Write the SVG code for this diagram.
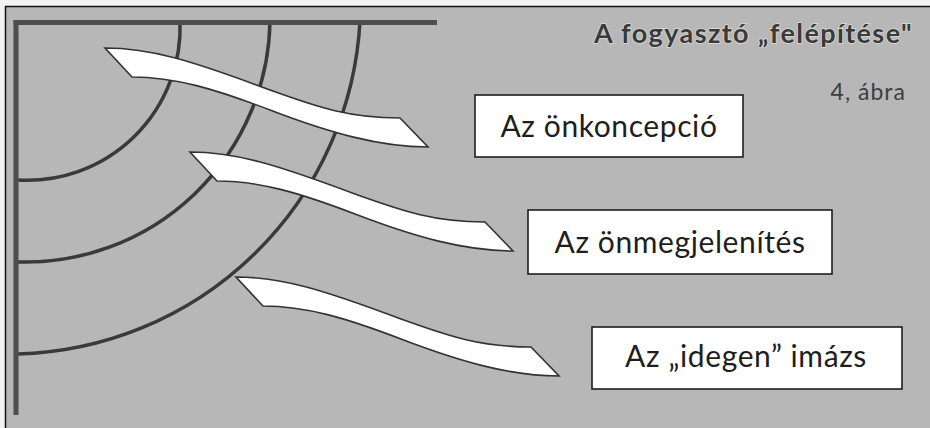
<svg xmlns="http://www.w3.org/2000/svg" width="930" height="428" viewBox="0 0 930 428">
  <defs>
    <style>
      .bg { fill: #b7b7b7; }
      .border { stroke: #111; stroke-width: 1.5; fill: none; }
      .frame { stroke: #4e4e4e; stroke-width: 5; fill: none; stroke-linecap: butt; }
      .arc { stroke: #3a3a3a; stroke-width: 3.5; fill: none; }
      .ribbon { fill: #ffffff; stroke: #333; stroke-width: 1.6; stroke-linejoin: miter; }
      .box { fill: #ffffff; stroke: #1e1e1e; stroke-width: 1.6; }
      .lbl { font-family: Lato, "Open Sans", "DejaVu Sans", sans-serif; font-size: 30px; letter-spacing: 0.6px; fill: #1e1e1e; text-anchor: middle; }
      .title { font-family: Lato, "Open Sans", "DejaVu Sans", sans-serif; font-weight: bold; font-size: 27px; letter-spacing: 1.4px; fill: #3a3a3a; text-anchor: end; stroke: #dcdcdc; stroke-width: 1.5; paint-order: stroke; }
      .sub { font-family: Lato, "Open Sans", "DejaVu Sans", sans-serif; font-size: 23px; letter-spacing: 1px; fill: #3e3e3e; text-anchor: end; }
    </style>
    <path id="rib" d="M105,48 C150,48 190,60 270,90 C320,108 350,118 400,118 L428,147 C380,147 330,133 270,110 C215,89 175,77 132,77 Z"/>
  </defs>

  <rect x="0" y="0" width="930" height="428" fill="#f2f2f2"/>
  <rect class="bg" x="5" y="7" width="925" height="421"/>

  <g id="layers">
    <path class="arc" d="M18,180 A153,153 0 0 0 180,21"/>
    <path class="arc" d="M18,262 A245,245 0 0 0 270,21"/>
    <path class="arc" d="M18,354 A352,352 0 0 0 360,21"/>
  </g>

  <g id="frame">
    <line class="border" x1="5" y1="6.5" x2="930" y2="6.5"/>
    <line class="border" x1="5.5" y1="6" x2="5.5" y2="428"/>
    <line class="frame" x1="13.5" y1="22.5" x2="437" y2="22.5"/>
    <line class="frame" x1="16" y1="20" x2="16" y2="415"/>
  </g>

  <g id="connectors">
    <use href="#rib" class="ribbon"/>
    <use href="#rib" class="ribbon" transform="translate(85,104)"/>
    <use href="#rib" class="ribbon" transform="translate(131,229)"/>
  </g>

  <g id="title">
    <text class="title" x="913" y="43">A fogyasztó „felépítése"</text>
    <text class="sub" x="906" y="100">4, ábra</text>
  </g>

  <g id="node-onkoncepcio">
    <rect class="box" x="475" y="95" width="268" height="62"/>
    <text class="lbl" x="609" y="137">Az önkoncepció</text>
  </g>

  <g id="node-onmegjelenites">
    <rect class="box" x="528" y="210" width="304" height="64"/>
    <text class="lbl" x="680" y="253">Az önmegjelenítés</text>
  </g>

  <g id="node-idegen-imazs">
    <rect class="box" x="592" y="327" width="310" height="62"/>
    <text class="lbl" x="746" y="367">Az „idegen” imázs</text>
  </g>
</svg>
